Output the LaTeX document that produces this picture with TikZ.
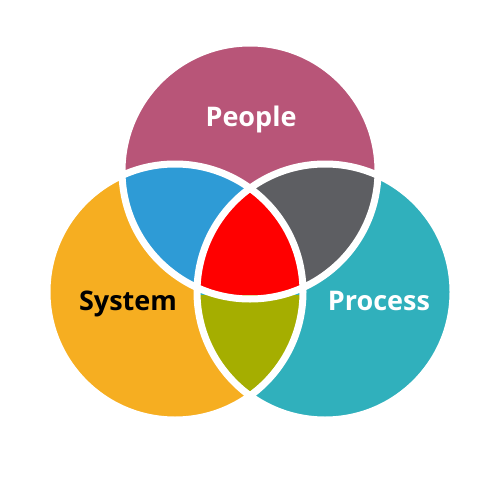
\documentclass[tikz,border=0pt]{standalone}
\usepackage{fontspec}
\setmainfont{Open Sans}
\definecolor{peoplec}{HTML}{B85578}
\definecolor{systemc}{HTML}{F6AE21}
\definecolor{processc}{HTML}{30B0BC}
\definecolor{psblue}{HTML}{2E9BD6}
\definecolor{ppgrey}{HTML}{5D5E62}
\definecolor{spolive}{HTML}{A5AE00}
\definecolor{allred}{HTML}{FF0000}
\tikzset{
  outline/.style={draw=white, line width=7pt},
  label/.style={font=\bfseries\fontsize{27}{30}\selectfont, anchor=base, inner sep=0pt}
}
\begin{document}
\begin{tikzpicture}[x=1pt,y=-1pt]
\useasboundingbox (0,0) rectangle (500,500);
\def\peoplecirc{(250,171) circle[radius=128pt]}
\def\systemcirc{(175,292) circle[radius=128pt]}
\def\processcirc{(325,292) circle[radius=128pt]}
\fill[systemc] \systemcirc;
\fill[processc] \processcirc;
\fill[peoplec] \peoplecirc;
\begin{scope}
  \clip \peoplecirc;
  \fill[psblue] \systemcirc;
  \fill[ppgrey] \processcirc;
  \clip \systemcirc;
  \fill[allred] \processcirc;
\end{scope}
\begin{scope}
  \clip \systemcirc;
  \clip \processcirc;
  \fill[spolive] (0,295) rectangle (500,500);
\end{scope}
\path[outline] \systemcirc;
\path[outline] \processcirc;
\path[outline] \peoplecirc;
\node[label, text=white] (people) at (251,127) {People};
\node[label, text=black] (system) at (128,310) {System};
\node[label, text=white] (process) at (379,310) {Process};
\end{tikzpicture}
\end{document}
